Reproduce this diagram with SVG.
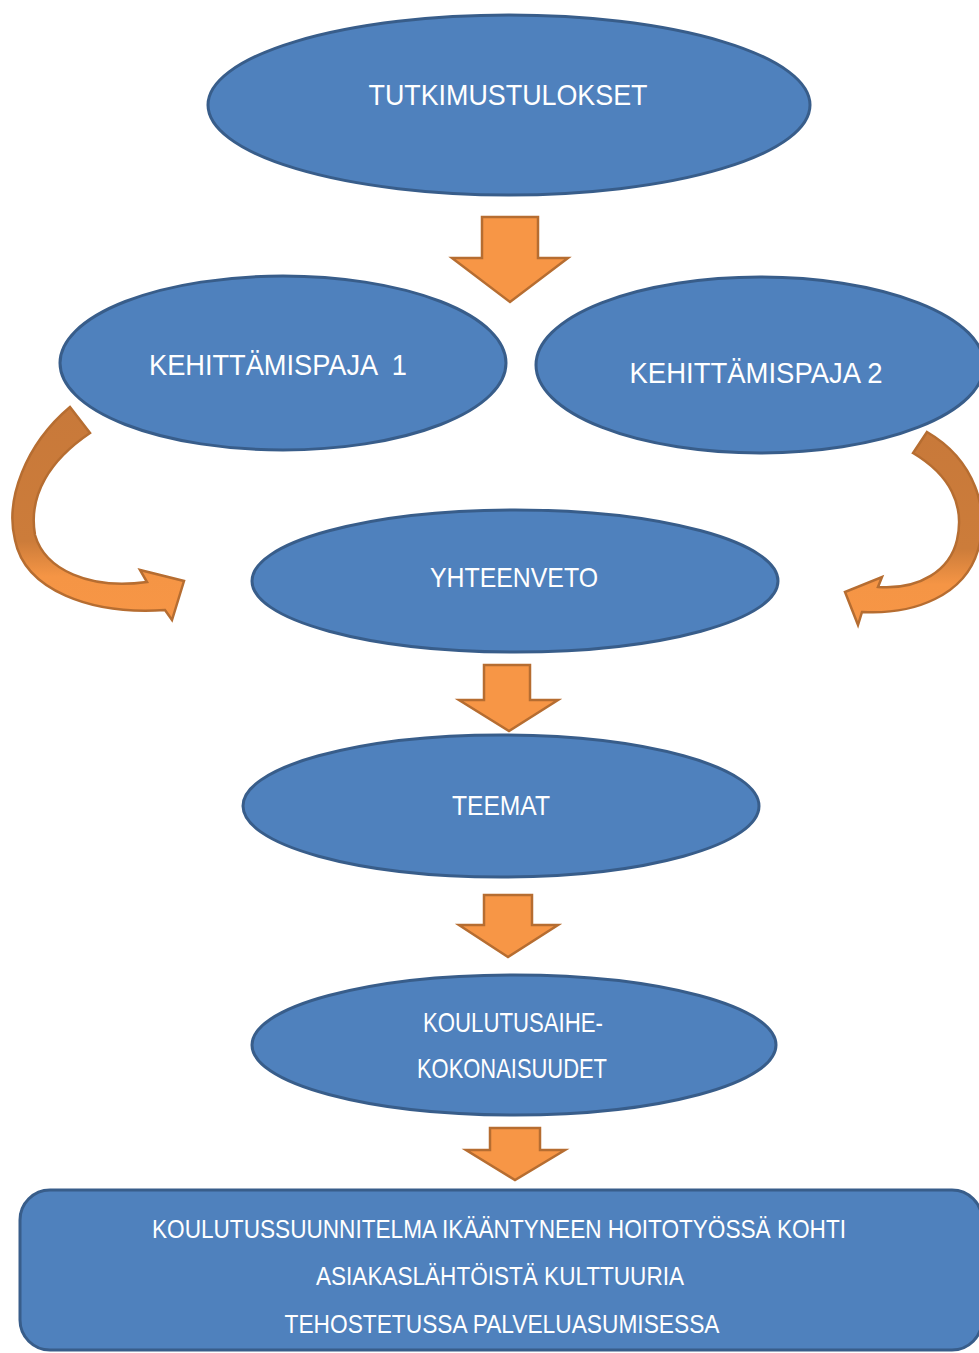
<svg xmlns="http://www.w3.org/2000/svg" width="979" height="1353" viewBox="0 0 979 1353">
<defs>
<style>
.n{fill:#4F81BD;stroke:#385D8A;stroke-width:3}
.t{fill:#FFFFFF;font-family:"Liberation Sans",Arial,sans-serif;text-anchor:middle}
.a{fill:#F79646;stroke:#B66D31;stroke-width:2.5;stroke-linejoin:miter}
.c{stroke:#B66D31;stroke-width:2.5;stroke-linejoin:miter}
</style>
<linearGradient id="gl" x1="0" y1="405" x2="0" y2="625" gradientUnits="userSpaceOnUse">
<stop offset="0" stop-color="#C8793A"/>
<stop offset="0.62" stop-color="#CC7C3A"/>
<stop offset="0.78" stop-color="#F59545"/>
<stop offset="1" stop-color="#F79646"/>
</linearGradient>
<linearGradient id="gr" x1="0" y1="430" x2="0" y2="628" gradientUnits="userSpaceOnUse">
<stop offset="0" stop-color="#C8793A"/>
<stop offset="0.6" stop-color="#CC7C3A"/>
<stop offset="0.78" stop-color="#F59545"/>
<stop offset="1" stop-color="#F79646"/>
</linearGradient>
</defs>
<rect width="979" height="1353" fill="#FFFFFF"/>
<g id="connectors">
<polygon class="a" points="482,217 538,217 538,258 568,258 510,302 452,258 482,258"/>
<polygon class="a" points="484,665 530,665 530,700 558,700 509,731 459,700 484,700"/>
<polygon class="a" points="484,895 532,895 532,925 558,925 508,957 459,925 484,925"/>
<polygon class="a" points="490,1128 540,1128 540,1150 565,1150 515,1180 466,1150 490,1150"/>
<path class="c" fill="url(#gl)" d="M70,407 C25,445 5,500 15,540 C25,590 90,615 165,610 L172,620 L184,581 L140,570 L147,582 C90,590 45,570 35,535 C28,495 50,460 90,433 Z"/>
<path class="c" fill="url(#gr)" d="M927,432 C975,460 990,510 978,550 C965,595 915,615 862,612 L858,625 L845,592 L882,577 L878,587 C920,590 950,570 957,540 C965,505 950,475 913,453 Z"/>
</g>
<g id="n1">
<ellipse class="n" cx="509" cy="105" rx="301" ry="90"/>
<text class="t" x="508" y="105" font-size="30" textLength="279" lengthAdjust="spacingAndGlyphs">TUTKIMUSTULOKSET</text>
</g>
<g id="n2">
<ellipse class="n" cx="283" cy="363" rx="223" ry="87"/>
<text class="t" x="278" y="375" font-size="29" textLength="258" lengthAdjust="spacingAndGlyphs" xml:space="preserve">KEHITTÄMISPAJA  1</text>
</g>
<g id="n3">
<ellipse class="n" cx="760" cy="365" rx="224" ry="88"/>
<text class="t" x="756" y="383" font-size="29" textLength="253" lengthAdjust="spacingAndGlyphs">KEHITTÄMISPAJA 2</text>
</g>
<g id="n4">
<ellipse class="n" cx="515" cy="581" rx="263" ry="71"/>
<text class="t" x="514" y="587" font-size="28" textLength="168" lengthAdjust="spacingAndGlyphs">YHTEENVETO</text>
</g>
<g id="n5">
<ellipse class="n" cx="501" cy="806" rx="258" ry="71"/>
<text class="t" x="501" y="815" font-size="28" textLength="98" lengthAdjust="spacingAndGlyphs">TEEMAT</text>
</g>
<g id="n6">
<ellipse class="n" cx="514" cy="1045" rx="262" ry="70"/>
<text class="t" x="513" y="1032" font-size="28" textLength="180" lengthAdjust="spacingAndGlyphs">KOULUTUSAIHE-</text>
<text class="t" x="512" y="1078" font-size="28" textLength="190" lengthAdjust="spacingAndGlyphs">KOKONAISUUDET</text>
</g>
<g id="n7">
<rect class="n" x="20" y="1190" width="962" height="160" rx="30" ry="30"/>
<text class="t" x="499" y="1238" font-size="26" textLength="694" lengthAdjust="spacingAndGlyphs">KOULUTUSSUUNNITELMA IKÄÄNTYNEEN HOITOTYÖSSÄ KOHTI</text>
<text class="t" x="500" y="1285" font-size="26" textLength="368" lengthAdjust="spacingAndGlyphs">ASIAKASLÄHTÖISTÄ KULTTUURIA</text>
<text class="t" x="502" y="1333" font-size="26" textLength="435" lengthAdjust="spacingAndGlyphs">TEHOSTETUSSA PALVELUASUMISESSA</text>
</g>
</svg>
